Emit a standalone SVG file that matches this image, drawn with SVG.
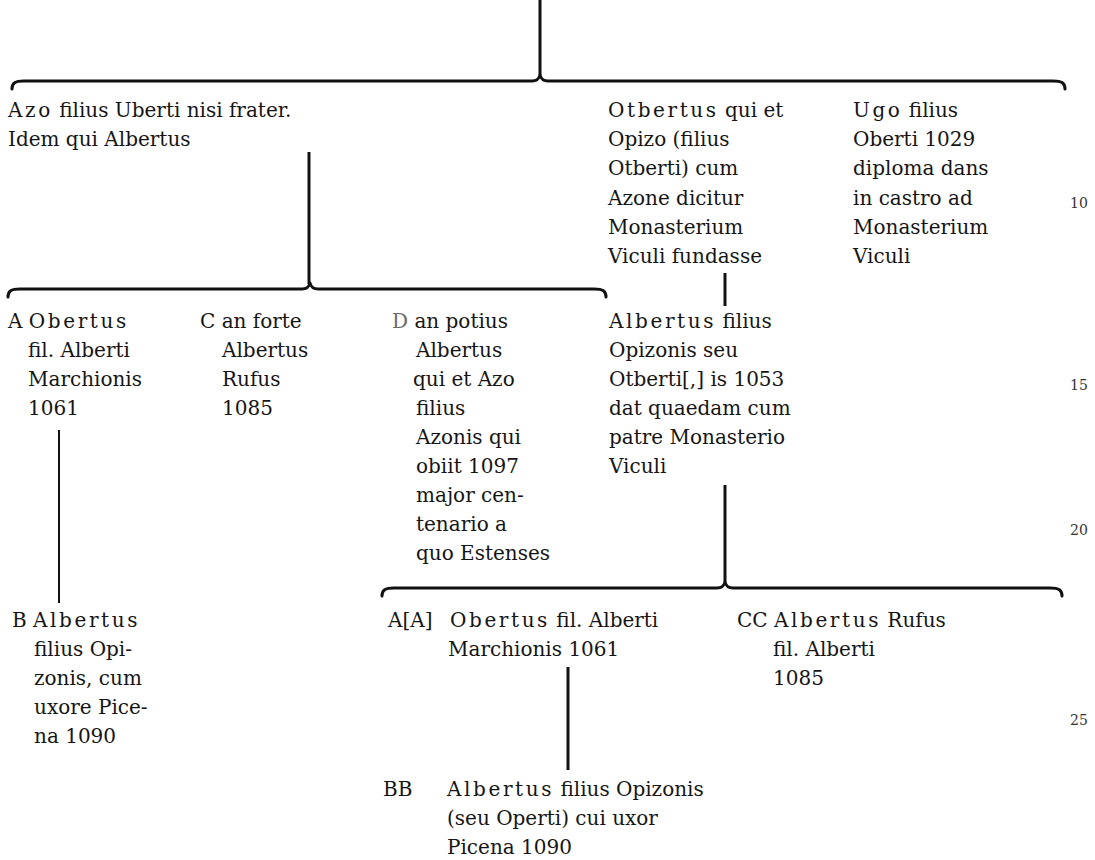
<svg xmlns="http://www.w3.org/2000/svg" width="1095" height="860" viewBox="0 0 1095 860">
<style>
text{font-family:'DejaVu Serif','Liberation Serif',serif;font-size:20px;fill:#151515}
.sp{letter-spacing:2.6px}
.num{font-size:14px;fill:#333}
.br{fill:none;stroke:#111;stroke-width:3;stroke-linecap:round;stroke-linejoin:round}
.ln{stroke:#111;stroke-width:3;stroke-linecap:butt}
.thin{stroke-width:2}
.gr{fill:#6a6a6a}
</style>
<g id="connectors">
<line class="ln" x1="540" y1="0" x2="540" y2="75"/>
<path class="br" d="M12,89 C12,83 15,81 24,81 L532,81 C537,81 539,79 540,75 C541,79 543,81 548,81 L1053,81 C1062,81 1065,83 1065,89"/>
<line class="ln" x1="309" y1="152" x2="309" y2="284"/>
<path class="br" d="M8,297 C8,291 11,289 20,289 L302,289 C307,289 309,287 310,283 C311,287 313,289 318,289 L594,289 C603,289 606,291 606,297"/>
<line class="ln" x1="725" y1="273" x2="725" y2="306"/>
<line class="ln thin" x1="59" y1="430" x2="59" y2="603"/>
<line class="ln" x1="725" y1="485" x2="725" y2="582"/>
<path class="br" d="M382,596 C382,590 385,588 394,588 L717,588 C722,588 724,586 725,582 C726,586 728,588 733,588 L1050,588 C1059,588 1062,590 1062,596"/>
<line class="ln" x1="568" y1="667" x2="568" y2="770"/>
</g>
<g id="node-azo">
<text x="8" y="117"><tspan class="sp">Azo</tspan> filius Uberti nisi frater.</text>
<text x="8" y="146">Idem qui Albertus</text>
</g>
<g id="node-otbertus">
<text x="608" y="117"><tspan class="sp">Otbertus</tspan> qui et</text>
<text x="608" y="146">Opizo (filius</text>
<text x="608" y="175">Otberti) cum</text>
<text x="608" y="205">Azone dicitur</text>
<text x="608" y="234">Monasterium</text>
<text x="608" y="263">Viculi fundasse</text>
</g>
<g id="node-ugo">
<text x="853" y="117"><tspan class="sp">Ugo</tspan> filius</text>
<text x="853" y="146">Oberti 1029</text>
<text x="853" y="175">diploma dans</text>
<text x="853" y="205">in castro ad</text>
<text x="853" y="234">Monasterium</text>
<text x="853" y="263">Viculi</text>
</g>
<g id="node-a">
<text x="8" y="328">A <tspan class="sp">Obertus</tspan></text>
<text x="28" y="357">fil. Alberti</text>
<text x="28" y="386">Marchionis</text>
<text x="28" y="415">1061</text>
</g>
<g id="node-c">
<text x="200" y="328">C an forte</text>
<text x="222" y="357">Albertus</text>
<text x="222" y="386">Rufus</text>
<text x="222" y="415">1085</text>
</g>
<g id="node-d">
<text x="392" y="328"><tspan class="gr">D</tspan> an potius</text>
<text x="416" y="357">Albertus</text>
<text x="413" y="386">qui et Azo</text>
<text x="416" y="415">filius</text>
<text x="416" y="444">Azonis qui</text>
<text x="416" y="473">obiit 1097</text>
<text x="416" y="502">major cen-</text>
<text x="416" y="531">tenario a</text>
<text x="416" y="560">quo Estenses</text>
</g>
<g id="node-albertus">
<text x="609" y="328"><tspan class="sp">Albertus</tspan> filius</text>
<text x="609" y="357">Opizonis seu</text>
<text x="609" y="386">Otberti[,] is 1053</text>
<text x="609" y="415">dat quaedam cum</text>
<text x="609" y="444">patre Monasterio</text>
<text x="609" y="473">Viculi</text>
</g>
<g id="node-b">
<text x="12" y="627">B <tspan class="sp">Albertus</tspan></text>
<text x="34" y="656">filius Opi-</text>
<text x="34" y="685">zonis, cum</text>
<text x="34" y="714">uxore Pice-</text>
<text x="34" y="743">na 1090</text>
</g>
<g id="node-aa">
<text x="388" y="627">A[A]  <tspan x="450" class="sp">Obertus</tspan> fil. Alberti</text>
<text x="448" y="656">Marchionis 1061</text>
</g>
<g id="node-cc">
<text x="737" y="627">CC <tspan class="sp">Albertus</tspan> Rufus</text>
<text x="773" y="656">fil. Alberti</text>
<text x="773" y="685">1085</text>
</g>
<g id="node-bb">
<text x="383" y="796">BB</text>
<text x="447" y="796"><tspan class="sp">Albertus</tspan> filius Opizonis</text>
<text x="447" y="825">(seu Operti) cui uxor</text>
<text x="447" y="854">Picena 1090</text>
</g>
<g id="margin">
<text class="num" x="1070" y="208">10</text>
<text class="num" x="1070" y="390">15</text>
<text class="num" x="1070" y="535">20</text>
<text class="num" x="1070" y="725">25</text>
</g>
</svg>
